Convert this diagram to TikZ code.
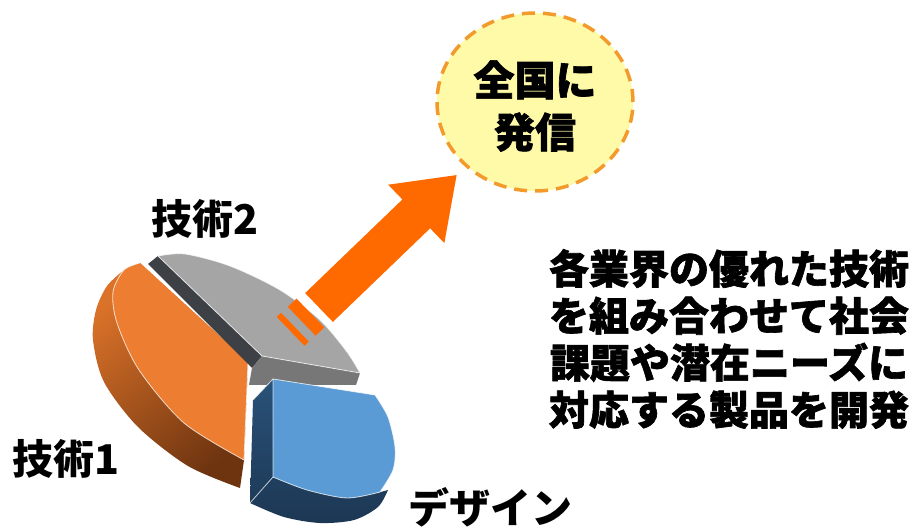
\documentclass[tikz,border=0pt]{standalone}
\usepackage{fontspec}
\usetikzlibrary{shapes.geometric}
\newfontfamily\jp{Noto Sans CJK JP}
\newfontfamily\jpheavy{Noto Sans CJK JP}[BoldFeatures={FakeBold=1.6}]
\definecolor{oface}{HTML}{ED7D31}
\definecolor{oside1}{HTML}{DA7229}
\definecolor{oside2}{HTML}{6E3410}
\definecolor{gface}{HTML}{A5A5A5}
\definecolor{gdark}{HTML}{3D4145}
\definecolor{gside}{HTML}{777777}
\definecolor{bface}{HTML}{5B9BD5}
\definecolor{bside1}{HTML}{2A5279}
\definecolor{bside2}{HTML}{1C3753}
\definecolor{arrowor}{HTML}{FF6A00}
\definecolor{circfill}{HTML}{FFFAA8}
\definecolor{circline}{HTML}{F39A2C}
\tikzset{
  lbl/.style={font=\jp\bfseries\fontsize{41}{48}\selectfont, text=black, inner sep=0pt},
  body/.style={font=\jpheavy\bfseries\fontsize{40}{47}\selectfont, text=black, inner sep=0pt, align=center},
  goaltxt/.style={font=\jpheavy\bfseries\fontsize{41}{52}\selectfont, text=black, inner sep=0pt, align=center},
  rim/.style={draw=white, draw opacity=0.75, line width=0.8pt, line join=round},
  goalshape/.style={ellipse, minimum width=196pt, minimum height=178pt, inner sep=0pt,
    fill=circfill, draw=circline, line width=3.5pt, dash pattern=on 13pt off 8pt}
}
\begin{document}
\begin{tikzpicture}[x=1pt,y=-1pt]
\useasboundingbox (0,0) rectangle (919,529);
\fill[white] (0,0) rectangle (919,529);

% ---------- orange slice (technology 1) ----------
\shade[top color=oside1, bottom color=oside2, shading angle=40]
  plot[smooth] coordinates {(124,270) (107,286) (96,310) (93,340) (104,382) (138,427) (188,466) (240,488)}
  -- (244,460) -- (248,362) -- (140,263) -- cycle;
\fill[oface] (140,263) -- (248,362) -- (244,460)
  -- plot[smooth] coordinates {(244,460) (184,423) (139,370) (117,323) (113,292) (124,270) (140,263)} -- cycle;
\draw[rim] (248,362) -- (244,460)
  plot[smooth] coordinates {(244,460) (184,423) (139,370) (117,323) (113,292) (124,270) (140,263)};

% ---------- gray slice (technology 2) ----------
\fill[gdark] (148,264) -- (158,256) -- (262,356) -- (252,368) -- cycle;
\fill[gside] (252,368) -- (262,356) -- (360,373) -- (356,385) -- (249,385) -- cycle;
\fill[gface] plot[smooth] coordinates {(158,256) (185,254) (230,266) (280,290) (320,320) (347,352) (360,373)}
  -- (262,356) -- cycle;
\draw[rim] plot[smooth] coordinates {(158,256) (185,254) (230,266) (280,290) (320,320) (347,352) (360,373)}
  -- (262,356) -- (158,256);

% ---------- blue slice (design) ----------
\shade[top color=bside1, bottom color=bside2]
  (273,379) -- (253,400) -- (250,503)
  -- plot[smooth] coordinates {(250,503) (284,517) (320,523) (354,520) (378,507) (388,490)}
  -- (377,493) -- (273,477) -- cycle;
\fill[bface] (273,379) -- (375,395)
  -- plot[smooth] coordinates {(375,395) (388,417) (395,447) (393,470) (380,492)}
  -- plot[smooth] coordinates {(380,492) (347,498) (307,490) (273,477)} -- cycle;
\draw[rim] (273,477) -- (273,379) -- (375,395)
  plot[smooth] coordinates {(375,395) (388,417) (395,447) (393,470) (380,492)}
  plot[smooth] coordinates {(380,492) (347,498) (307,490) (273,477)};
\draw[rim] (273,379) -- (253,400);
\draw[rim] (273,477) -- (250,503);

% ---------- arrow ----------
\begin{scope}[shift={(319,307.5)}, rotate=43.9]
  \coordinate (arrowtip) at (191,0);
  \fill[arrowor] (0,-20) -- (135,-20) -- (135,-40.5) -- (arrowtip) -- (135,40.5) -- (135,20) -- (0,20) -- cycle;
  \fill[arrowor] (-22,-22) rectangle (-10,18);
  \fill[arrowor] (-37,-22.5) rectangle (-31,17.5);
\end{scope}

% ---------- circle ----------
\node[goalshape] (goal) at (535,102) {};
\node[goaltxt] (goaltext) at (535,106) {全国に\\発信};

% ---------- labels ----------
\node[lbl] (tech2) at (205,219) {技術2};
\node[lbl] (tech1) at (66,459) {技術1};
\node[lbl] (design) at (490,507) {デザイン};
\node[body] (desc) at (729,339) {各業界の優れた技術\\を組み合わせて社会\\課題や潜在ニーズに\\対応する製品を開発};
\end{tikzpicture}
\end{document}
